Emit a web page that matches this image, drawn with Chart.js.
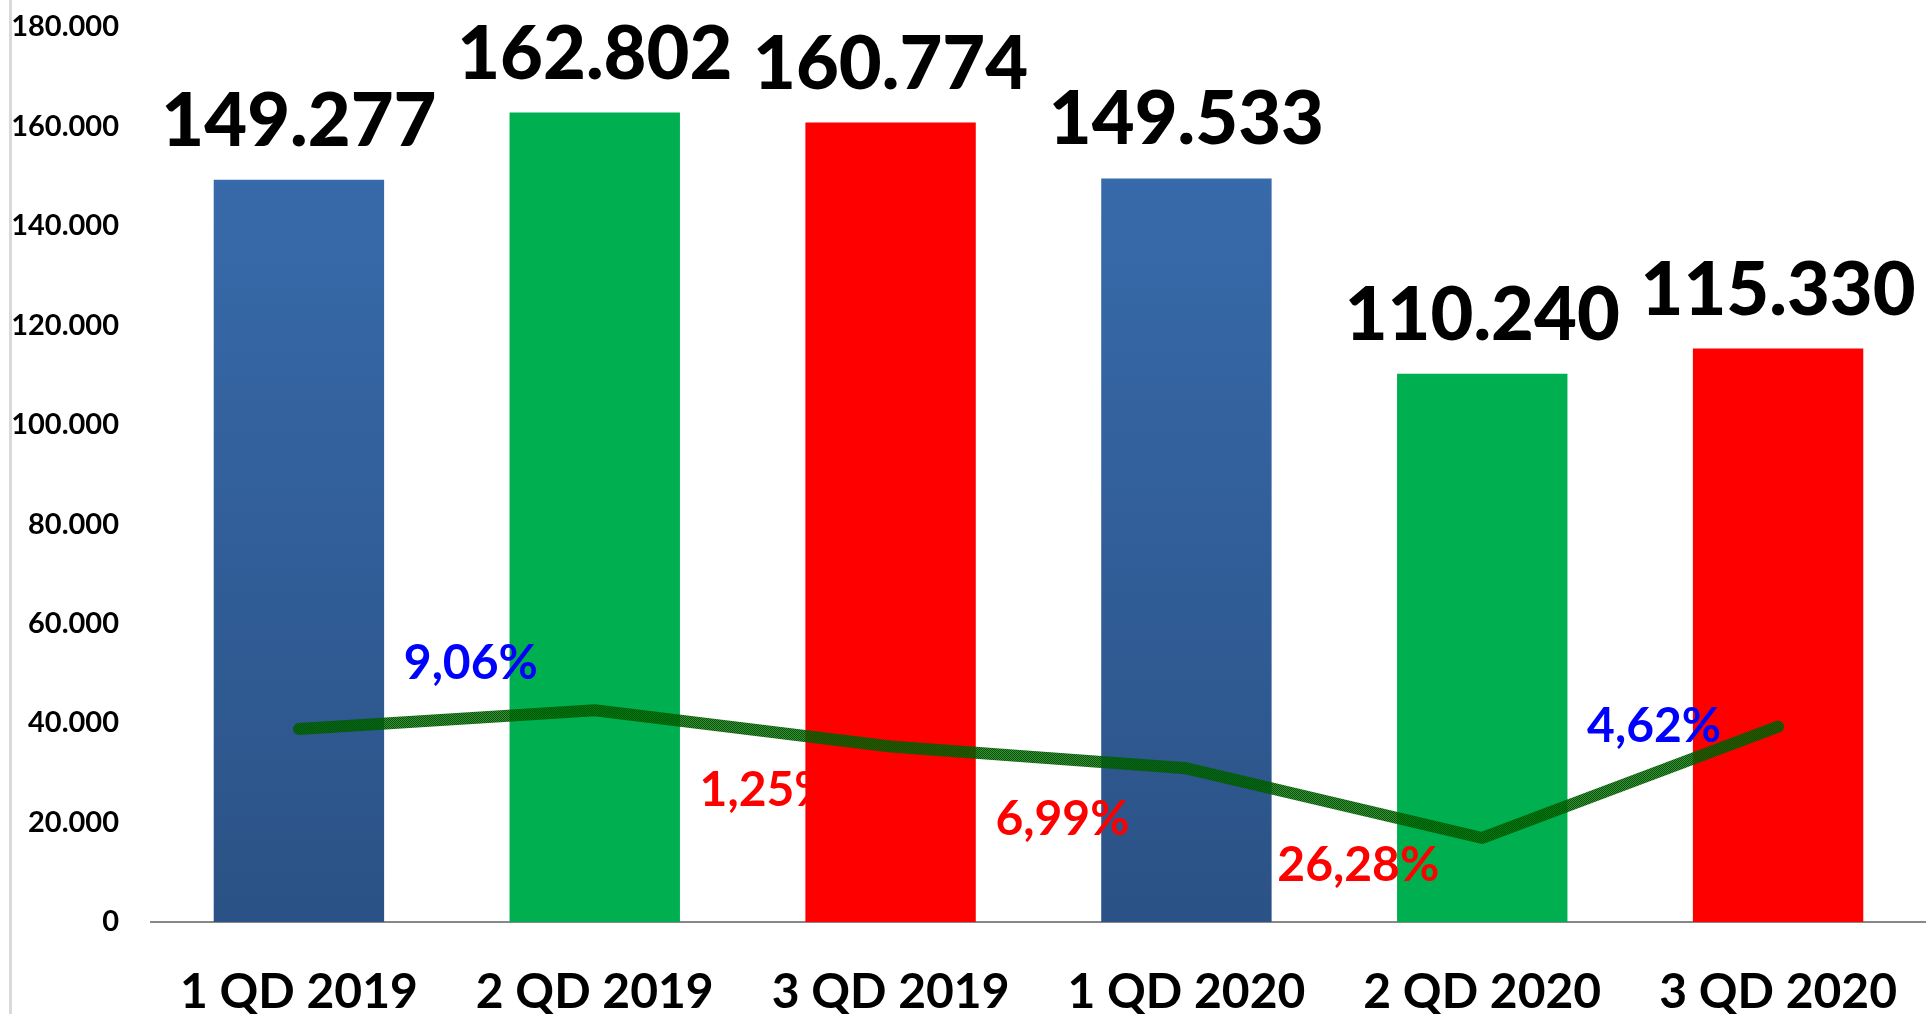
<!DOCTYPE html>
<html>
<head>
<meta charset="utf-8">
<script src="https://cdn.jsdelivr.net/npm/chart.js@4.4.1/dist/chart.umd.min.js"></script>
<style>
  html, body { margin: 0; padding: 0; background: #fff; }
  #wrap { position: relative; width: 1926px; height: 1014px; }
  #wrap:before { content: ''; position: absolute; left: 9px; top: 0; bottom: 0; width: 3px; background: #d9d9d9; }
</style>
</head>
<body>
<div id="wrap"><canvas id="chart" width="1926" height="1014"></canvas></div>
<script>
const quarters = ['1 QD 2019', '2 QD 2019', '3 QD 2019', '1 QD 2020', '2 QD 2020', '3 QD 2020'];
const totals = [149277, 162802, 160774, 149533, 110240, 115330];
const trendValues = [38800, 42600, 35300, 30900, 16900, 39300];
const changeLabels = ['9,06%', '1,25%', '6,99%', '26,28%', '4,62%'];
const changeUp = [true, false, false, false, true];

const FONT = "Lato, 'Open Sans', sans-serif";
const barKinds = ['blue', 'green', 'red', 'blue', 'green', 'red'];

function fmt(v) {
  return v.toString().replace(/\B(?=(\d{3})+(?!\d))/g, '.');
}

function barColor(c) {
  const kind = barKinds[c.dataIndex];
  if (kind === 'green') return '#00B050';
  if (kind === 'red') return '#FF0000';
  const area = c.chart.chartArea;
  if (!area) return '#32609C';
  const g = c.chart.ctx.createLinearGradient(0, area.top, 0, area.bottom);
  g.addColorStop(0, '#3A6FB2');
  g.addColorStop(1, '#2B5286');
  return g;
}

// dithered dark green, like the original line texture
function linePattern() {
  const c = document.createElement('canvas');
  c.width = 2; c.height = 2;
  const x = c.getContext('2d');
  x.fillStyle = '#005800';
  x.fillRect(0, 0, 1, 1);
  x.fillRect(1, 1, 1, 1);
  x.fillStyle = 'rgba(0,100,0,0.75)';
  x.fillRect(1, 0, 1, 1);
  x.fillRect(0, 1, 1, 1);
  return x.createPattern(c, 'repeat');
}

const labelPlugin = {
  id: 'labels',
  afterDatasetsDraw(chart) {
    const ctx = chart.ctx;
    const bars = chart.getDatasetMeta(1).data;
    const pts = chart.getDatasetMeta(0).data;
    ctx.save();
    ctx.textAlign = 'center';
    ctx.fillStyle = '#000';
    ctx.font = '900 74px ' + FONT;
    ctx.textBaseline = 'alphabetic';
    bars.forEach((b, i) => {
      ctx.fillText(fmt(totals[i]), b.x, b.y - 34);
    });
    ctx.font = 'bold 48px ' + FONT;
    ctx.textBaseline = 'middle';
    changeLabels.forEach((t, i) => {
      const x = (pts[i].x + pts[i + 1].x) / 2 + 24;
      const y = (pts[i].y + pts[i + 1].y) / 2;
      ctx.fillStyle = changeUp[i] ? '#0000FF' : '#FF0000';
      ctx.fillText(t, x, changeUp[i] ? y - 56 : y + 62);
    });
    ctx.restore();
  }
};

new Chart(document.getElementById('chart'), {
  data: {
    labels: quarters,
    datasets: [{
      type: 'line',
      data: trendValues,
      borderColor: linePattern(),
      borderWidth: 12,
      borderCapStyle: 'round',
      borderJoinStyle: 'round',
      pointRadius: 0,
      tension: 0,
      order: 0
    }, {
      type: 'bar',
      data: totals,
      backgroundColor: barColor,
      categoryPercentage: 1,
      barPercentage: 0.576,
      order: 1
    }]
  },
  options: {
    responsive: false,
    animation: false,
    layout: { padding: { top: 27, right: -4, left: 0, bottom: 0 } },
    plugins: { legend: { display: false }, tooltip: { enabled: false } },
    scales: {
      x: {
        grid: { display: false },
        border: { color: '#888', width: 2 },
        ticks: { color: '#000', font: { family: FONT, size: 48, weight: 'bold' }, padding: 34 },
        afterFit: s => { s.height = 92; s.paddingLeft = 0; s.paddingRight = 0; }
      },
      y: {
        min: 0, max: 180000,
        grid: { display: false },
        border: { display: false },
        ticks: {
          stepSize: 20000,
          color: '#000',
          padding: 24,
          font: { family: FONT, size: 29, weight: 'bold' },
          callback: v => fmt(v)
        },
        afterFit: s => { s.width = 151; s.paddingTop = 0; s.paddingBottom = 0; }
      }
    }
  },
  plugins: [labelPlugin]
});
</script>
</body>
</html>
